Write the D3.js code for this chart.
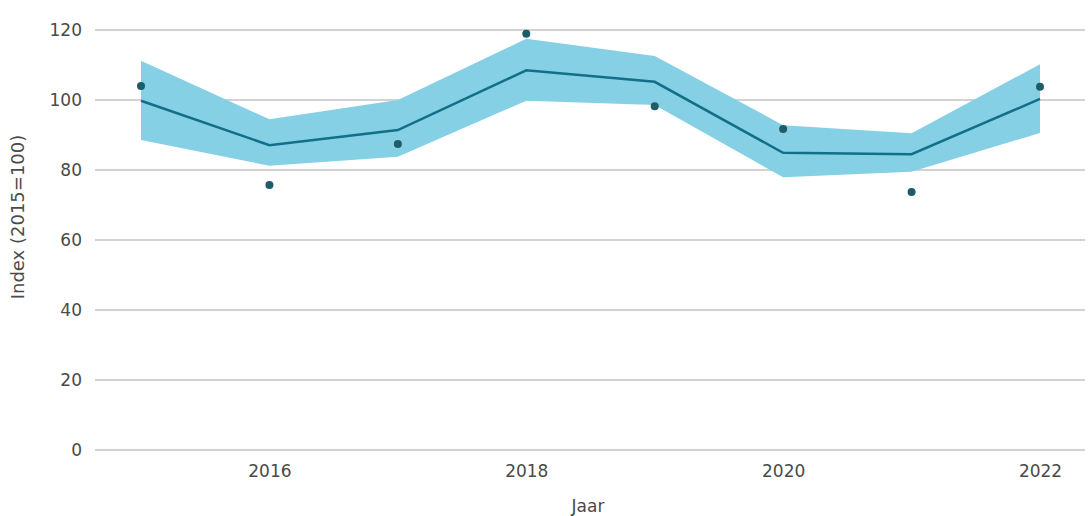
<!DOCTYPE html>
<meta charset="utf-8">
<style>
body { margin: 0; background: #fff; }
text { font-family: "DejaVu Sans", sans-serif; fill: #4a4a4a; }
.grid line { stroke: #d2d2d2; stroke-width: 2px; }
.axis path.domain, .axis line { display: none; }
.band { fill: #86d0e6; }
.trend { fill: none; stroke: #126f88; stroke-width: 2.5px; }
.dot { fill: #1e5c68; }
</style>
<body>
<div id="chart"></div>
<script src="https://d3js.org/d3.v7.min.js"></script>
<script>
// data
var years = [2015, 2016, 2017, 2018, 2019, 2020, 2021, 2022];
var observed = [104, 75.7, 87.4, 118.9, 98.2, 91.7, 73.7, 103.8];
var trend = [99.8, 87.1, 91.4, 108.5, 105.2, 84.9, 84.5, 100.3];
var upper = [111.2, 94.5, 100, 117.5, 112.6, 92.8, 90.5, 110.2];
var lower = [88.6, 81.2, 83.8, 99.8, 98.6, 77.9, 79.5, 90.6];
var yTicks = [0, 20, 40, 60, 80, 100, 120];
var xTicks = [2016, 2018, 2020, 2022];

var width = 1091, height = 516;
var margin = {top: 30, right: 6, bottom: 66, left: 95};

var svg = d3.select("#chart").append("svg")
    .attr("width", width)
    .attr("height", height);

var x = d3.scaleLinear().domain([2015, 2022]).range([141, 1040]);
var y = d3.scaleLinear().domain([0, 120]).range([height - margin.bottom, margin.top]);

var rows = years.map(function(d, i) {
  return {year: d, obs: observed[i], trend: trend[i], hi: upper[i], lo: lower[i]};
});

// gridlines
svg.append("g").attr("class", "grid")
  .selectAll("line").data(yTicks).enter().append("line")
    .attr("x1", margin.left).attr("x2", width - margin.right)
    .attr("y1", function(d) { return y(d); })
    .attr("y2", function(d) { return y(d); });

// axes
svg.append("g").attr("class", "axis")
    .attr("transform", "translate(" + (margin.left - 9) + ",0)")
    .call(d3.axisLeft(y).tickValues(yTicks).tickSize(0).tickPadding(4))
    .selectAll("text").style("font-size", "17px").style("fill", "#4a4a4a");

svg.append("g").attr("class", "axis")
    .attr("transform", "translate(0," + (height - margin.bottom + 11) + ")")
    .call(d3.axisBottom(x).tickValues(xTicks).tickFormat(d3.format("d")).tickSize(0).tickPadding(4))
    .selectAll("text").style("font-size", "17px").style("fill", "#4a4a4a");

// band
var area = d3.area()
    .x(function(d) { return x(d.year); })
    .y0(function(d) { return y(d.lo); })
    .y1(function(d) { return y(d.hi); });

svg.append("path").datum(rows).attr("class", "band").attr("d", area);

// trend line
var line = d3.line()
    .x(function(d) { return x(d.year); })
    .y(function(d) { return y(d.trend); });

svg.append("path").datum(rows).attr("class", "trend").attr("d", line);

// observed points
svg.selectAll(".dot").data(rows).enter().append("circle")
    .attr("class", "dot")
    .attr("cx", function(d) { return x(d.year); })
    .attr("cy", function(d) { return y(d.obs); })
    .attr("r", 4);

// axis labels
svg.append("text")
    .attr("x", 588).attr("y", 512)
    .attr("text-anchor", "middle")
    .style("font-size", "17px")
    .text("Jaar");

svg.append("text")
    .attr("transform", "translate(24,217) rotate(-90)")
    .attr("text-anchor", "middle")
    .style("font-size", "18px")
    .text("Index (2015=100)");
</script>
</body>
